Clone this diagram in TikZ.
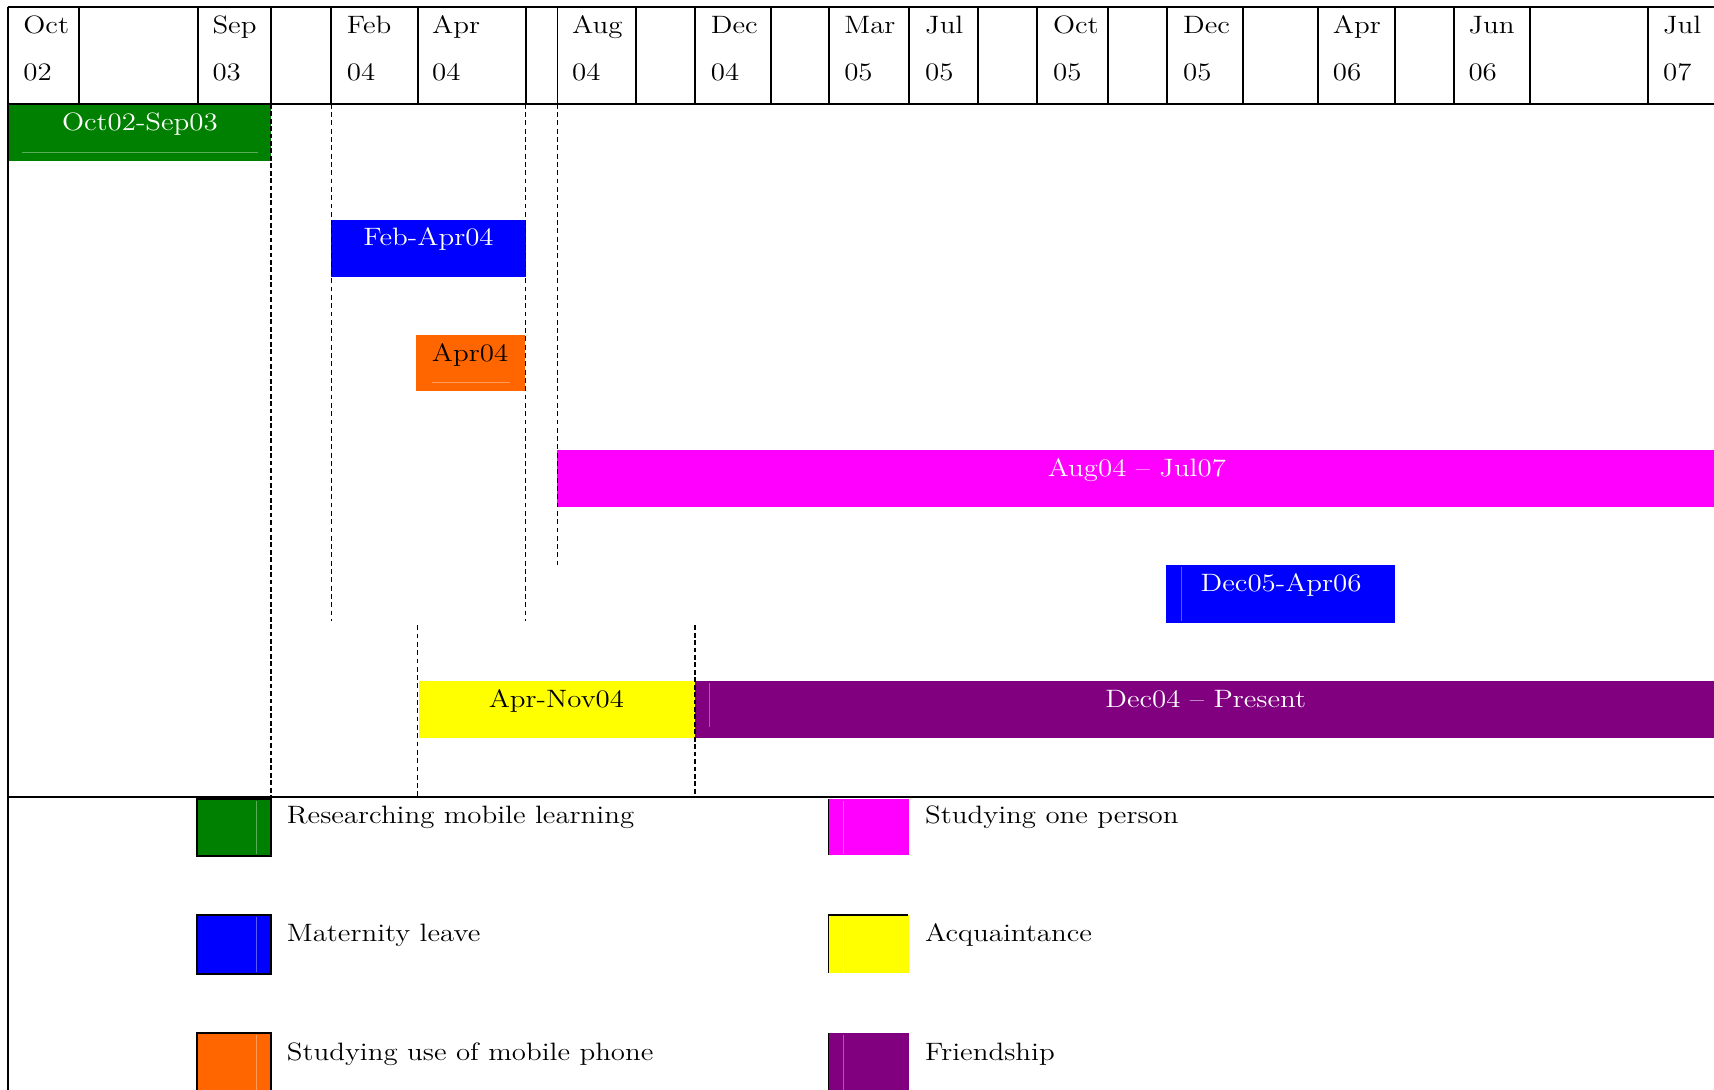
\documentclass[tikz,border=0pt]{standalone}
\usepackage{fontspec}
\usepackage{graphicx}
\definecolor{cgreen}{HTML}{008000}
\definecolor{cblue}{HTML}{0000FF}
\definecolor{corange}{HTML}{FF6600}
\definecolor{cmagenta}{HTML}{FF00FF}
\definecolor{cyellow}{HTML}{FFFF00}
\definecolor{cpurple}{HTML}{800080}
\newcommand{\wtxt}[1]{\scalebox{1.15}[1]{#1}}
\begin{document}
\begin{tikzpicture}[x=0.5pt,y=-0.5pt,
  txt/.style={font=\fontsize{11.5}{13}\selectfont, inner sep=0pt},
  hdr/.style={txt, anchor=base west},
  barlbl/.style={txt, anchor=base},
  leglbl/.style={txt, anchor=base west},
  gridline/.style={line width=0.9pt},
  dthin/.style={dash pattern=on 2.2pt off 1.6pt, line width=0.6pt},
  dbold/.style={dash pattern=on 2.2pt off 1.2pt, line width=1.1pt},
  faint/.style={white, opacity=0.35, line width=0.4pt},
  legbox/.style={line width=0.8pt}]
\useasboundingbox (0,0) rectangle (1568,997);

% ---------- bars ----------
\fill[cgreen]   (7,95)    rectangle (248,147);
\fill[cblue]    (303,201) rectangle (481,253);
\fill[corange]  (381,306) rectangle (480,358);
\fill[cmagenta] (510,412) rectangle (1568,464);
\fill[cblue]    (1067,517) rectangle (1276,570);
\fill[cyellow]  (383,623) rectangle (636,675);
\fill[cpurple]  (636,623) rectangle (1568,675);
\draw[faint] (20,139) -- (236,139);
\draw[faint] (395,350) -- (467,350);
\draw[faint] (1081,519) -- (1081,568);
\draw[faint] (649,625) -- (649,665);

\node[barlbl, white] (b1) at (128,119) {\wtxt{Oct02-Sep03}};
\node[barlbl, white] (b2) at (392,225) {\wtxt{Feb-Apr04}};
\node[barlbl, black] (b3) at (430,331) {\wtxt{Apr04}};
\node[barlbl, white] (b4) at (1040,436) {\wtxt{Aug04 -- Jul07}};
\node[barlbl, white] (b5) at (1172,541) {\wtxt{Dec05-Apr06}};
\node[barlbl, black] (b6) at (509,647) {\wtxt{Apr-Nov04}};
\node[barlbl, white] (b7) at (1103,647) {\wtxt{Dec04 -- Present}};

% ---------- dashed guides ----------
\draw[dbold] (248,95) -- (248,729);
\draw[dthin] (303,95) -- (303,568);
\draw[dthin] (481,95) -- (481,568);
\draw[dthin] (510,95) -- (510,517);
\draw[dthin] (382,572) -- (382,729);
\draw[dbold] (636,572) -- (636,729);

% ---------- header grid ----------
\draw[gridline] (7,6) -- (1568,6);
\draw[gridline] (7,95) -- (1568,95);
\draw[gridline] (7,729) -- (1568,729);
\draw[gridline] (7,6) -- (7,997);
\foreach \x in {72,181,248,303,382,481,510,582,636,705,758,832,895,949,1014,1068,1137,1206,1276,1330,1400,1508}
  \draw[gridline] (\x,6) -- (\x,95);

\foreach \x/\m/\y/\k in {21/Oct/02/a, 194/Sep/03/b, 317/Feb/04/c, 395/Apr/04/d,
  523/Aug/04/e, 650/Dec/04/f, 772/Mar/05/g, 846/Jul/05/h, 963/Oct/05/i,
  1082/Dec/05/j, 1219/Apr/06/k, 1343/Jun/06/l, 1521/Jul/07/m}{
  \node[hdr] (mon\k) at (\x,31) {\wtxt{\m}};
  \node[hdr] (yr\k) at (\x,74) {\wtxt{\y}};
}

% ---------- legend ----------
\fill[cgreen]  (180,731) rectangle (248,783);
\draw[legbox]  (180,731) rectangle (248,783);
\fill[cblue]   (180,837) rectangle (248,891);
\draw[legbox]  (180,837) rectangle (248,891);
\fill[corange] (180,945) rectangle (248,1005);
\draw[legbox]  (180,1005) -- (180,945) -- (248,945) -- (248,1005);
\draw[faint] (235,733) -- (235,781);
\draw[faint] (235,839) -- (235,889);
\draw[faint] (235,947) -- (235,997);

\fill[cmagenta] (758,731) rectangle (832,782);
\draw[legbox]   (758,731) -- (758,782);
\fill[cyellow]  (758,837) rectangle (832,890);
\draw[legbox]   (758,890) -- (758,837) -- (831,837);
\fill[cpurple]  (758,945) rectangle (832,1000);
\draw[legbox]   (758,945) -- (758,1000);
\draw[faint] (772,733) -- (772,781);
\draw[faint] (772,839) -- (772,889);
\draw[faint] (772,947) -- (772,997);

\node[leglbl] (l1) at (262,753) {\wtxt{Researching mobile learning}};
\node[leglbl] (l2) at (262,861) {\wtxt{Maternity leave}};
\node[leglbl] (l3) at (262,970) {\wtxt{Studying use of mobile phone}};
\node[leglbl] (l4) at (846,753) {\wtxt{Studying one person}};
\node[leglbl] (l5) at (846,861) {\wtxt{Acquaintance}};
\node[leglbl] (l6) at (846,970) {\wtxt{Friendship}};
\end{tikzpicture}
\end{document}
